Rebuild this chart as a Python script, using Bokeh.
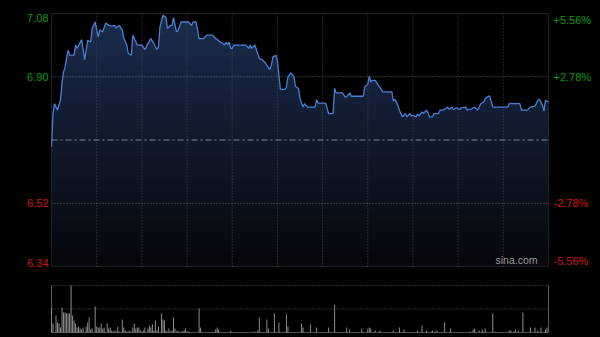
import numpy as np
from bokeh.plotting import figure
from bokeh.models import Range1d, Label, BoxAnnotation
from bokeh.embed import file_html
from bokeh.resources import INLINE

# ---------------- data ----------------
prev_close = 6.71
y_lo, y_hi = 6.337, 7.083

price_minute = [0, 1, 2, 4, 6, 7, 8, 9, 11, 12, 15, 16, 17, 20, 22, 24, 26, 27, 29, 31,
                32, 34, 36, 38, 40, 42, 43, 45, 47, 48, 50, 51, 53, 54, 57, 60, 62, 64, 66, 68,
                70, 71, 72, 74, 76, 77, 79, 80, 81, 83, 84, 86, 88, 91, 93, 94, 96, 98, 101, 103,
                107, 109, 110, 112, 114, 115, 116, 117, 118, 119, 120, 121, 124, 127, 129, 131, 132, 133, 135, 136,
                138, 140, 142, 143, 145, 146, 147, 149, 150, 151, 152, 155, 156, 157, 159, 161, 162, 164, 165, 167,
                168, 170, 175, 176, 177, 182, 184, 187, 188, 189, 193, 195, 196, 198, 199, 207, 208, 210, 211, 212,
                213, 215, 217, 218, 220, 226, 227, 228, 230, 231, 233, 235, 236, 238, 239, 240, 242, 243, 244, 246,
                247, 249, 250, 251, 253, 254, 257, 258, 260, 262, 263, 264, 266, 267, 269, 271, 272, 275, 276, 277,
                279, 281, 283, 285, 287, 288, 290, 291, 293, 300, 303, 304, 311, 312, 316, 318, 321, 323, 324, 326,
                327, 328, 330]
price = [6.690, 6.788, 6.817, 6.798, 6.830, 6.880, 6.911, 6.925, 6.975, 6.960, 6.960, 6.990, 6.980, 7.006, 6.947, 7.004, 6.999, 7.039, 7.058, 7.014,
         7.034, 7.029, 7.055, 7.048, 7.046, 7.048, 7.040, 7.048, 7.034, 7.010, 6.990, 6.965, 6.960, 7.019, 6.990, 6.990, 6.977, 6.994, 7.009, 6.994,
         6.977, 6.984, 7.043, 7.078, 7.071, 7.039, 7.048, 7.048, 7.071, 7.029, 7.032, 7.058, 7.058, 7.058, 7.048, 7.058, 7.058, 7.009, 7.009, 7.019,
         7.019, 7.009, 7.006, 6.999, 6.994, 6.990, 6.999, 6.990, 6.999, 6.980, 6.980, 6.990, 6.990, 6.990, 6.990, 6.980, 6.990, 6.980, 6.990, 6.977,
         6.950, 6.947, 6.937, 6.930, 6.918, 6.930, 6.955, 6.960, 6.945, 6.901, 6.859, 6.859, 6.866, 6.896, 6.908, 6.896, 6.868, 6.862, 6.832, 6.807,
         6.817, 6.807, 6.807, 6.829, 6.819, 6.819, 6.788, 6.788, 6.862, 6.849, 6.849, 6.837, 6.837, 6.849, 6.839, 6.839, 6.866, 6.874, 6.898, 6.881,
         6.886, 6.886, 6.871, 6.865, 6.852, 6.852, 6.825, 6.830, 6.812, 6.798, 6.778, 6.788, 6.778, 6.788, 6.781, 6.783, 6.778, 6.786, 6.781, 6.793,
         6.788, 6.798, 6.790, 6.778, 6.778, 6.788, 6.788, 6.798, 6.798, 6.803, 6.807, 6.800, 6.807, 6.800, 6.805, 6.800, 6.805, 6.807, 6.798, 6.800,
         6.802, 6.807, 6.798, 6.817, 6.822, 6.832, 6.839, 6.839, 6.807, 6.807, 6.807, 6.817, 6.817, 6.798, 6.798, 6.807, 6.810, 6.827, 6.830, 6.812,
         6.795, 6.827, 6.822]

vol_minute = [0, 1, 3, 4, 5, 6, 7, 8, 9, 10, 11, 12, 13, 14, 15, 16, 17, 18, 19, 20,
              21, 23, 24, 25, 26, 27, 29, 30, 31, 32, 33, 34, 35, 37, 38, 39, 40, 41, 42, 43,
              44, 45, 47, 48, 49, 50, 51, 52, 54, 55, 56, 57, 58, 59, 60, 61, 62, 64, 65, 66,
              67, 68, 69, 70, 71, 73, 74, 75, 76, 77, 78, 79, 80, 81, 82, 83, 84, 86, 87, 88,
              89, 90, 91, 98, 99, 109, 110, 111, 119, 135, 137, 138, 143, 144, 148, 151, 156, 157, 166, 167,
              172, 176, 184, 188, 196, 198, 206, 210, 211, 212, 215, 218, 227, 231, 234, 243, 246, 249, 252, 253,
              255, 256, 261, 265, 278, 280, 281, 284, 286, 287, 288, 293, 295, 304, 305, 307, 308, 310, 313, 318,
              321, 323, 325, 328, 329]
volume = [25, 9, 17, 10, 9, 5, 25, 20, 20, 19, 19, 19, 47, 17, 12, 9, 5, 6, 4, 3,
          5, 6, 10, 15, 3, 4, 26, 6, 5, 5, 9, 4, 5, 9, 4, 5, 2, 1, 2, 1,
          6, 1, 13, 5, 2, 1, 1, 2, 5, 9, 4, 5, 5, 2, 1, 2, 5, 4, 7, 5,
          8, 2, 12, 2, 6, 19, 13, 12, 2, 1, 4, 1, 2, 15, 4, 1, 2, 1, 1, 2,
          4, 1, 1, 24, 5, 3, 5, 3, 2, 1, 2, 15, 13, 4, 19, 10, 18, 6, 9, 5,
          8, 5, 5, 28, 5, 3, 4, 4, 5, 4, 2, 2, 2, 5, 3, 2, 7, 2, 1, 2,
          1, 2, 10, 4, 1, 3, 4, 2, 3, 1, 4, 19, 1, 2, 2, 1, 3, 2, 20, 5,
          5, 2, 5, 3, 5]
vol_max = 47

price_ticks = [7.083, 6.8965, 6.5235, 6.337]
price_labels = ["7.08", "6.90", "6.52", "6.34"]
pct_labels = ["+5.56%", "+2.78%", "-2.78%", "-5.56%"]
time_ticks = [30, 60, 90, 120, 150, 180, 210, 240, 270, 300]
session_end = 330

# ---------------- layout geometry (pixels of the 600x337 canvas) ----------------
W, Hc = 600, 337
left_px, right_px = 51, 548
top_px, bot_px = 13, 266
vol_top_px, vol_bot_px = 285, 332

ppm = (right_px - left_px) / session_end            # px per minute
x_start = -left_px / ppm
x_end = session_end + (W - right_px) / ppm
ppp = (y_hi - y_lo) / (bot_px - top_px)              # price per px
yr_top = y_hi + top_px * ppp
yr_bot = y_lo - (Hc - bot_px) * ppp
vpp = vol_max / (vol_bot_px - vol_top_px)            # volume per px
v_bot = -(Hc - vol_bot_px) * vpp
v_top = vol_bot_px * vpp

GREEN = "#0a9a0a"
RED = "#d41414"
FONT = "Liberation Sans"

p = figure(width=W, height=Hc, x_range=Range1d(x_start, x_end), y_range=Range1d(yr_bot, yr_top),
           x_axis_type=None, y_axis_type=None, toolbar_location=None, output_backend="svg",
           min_border=0, background_fill_color="black", border_fill_color="black",
           outline_line_color=None, outline_line_alpha=0)
p.extra_y_ranges = {"vol": Range1d(v_bot, v_top)}

try:
    from bokeh.models import GlobalInlineStyleSheet
    p.stylesheets = [GlobalInlineStyleSheet(css="html, body { background-color: #000000; margin: 0; }")]
except Exception:
    pass

# vertical gradient under the price line
H = 256
t = np.linspace(0.0, 1.0, H)
top_c = np.array([28, 45, 78]); bot_c = np.array([5, 7, 11])
cols = (bot_c[None, :] + (top_c - bot_c)[None, :] * t[:, None]).astype(np.uint8)
img = np.empty((H, 1), dtype=np.uint32)
view = img.view(dtype=np.uint8).reshape((H, 1, 4))
view[:, 0, 0] = cols[:, 0]
view[:, 0, 1] = cols[:, 1]
view[:, 0, 2] = cols[:, 2]
view[:, 0, 3] = 255
p.image_rgba(image=[img], x=0, y=y_lo, dw=session_end, dh=y_hi - y_lo, level="image")
p.varea(x=price_minute, y1=price, y2=y_hi, fill_color="black", level="image")

# grid lines
p.segment(x0=time_ticks, y0=y_lo, x1=time_ticks, y1=y_hi, line_color="#484848",
          line_dash="1 2", line_width=1, level="underlay")
p.segment(x0=0, y0=[price_ticks[1], price_ticks[2]], x1=session_end,
          y1=[price_ticks[1], price_ticks[2]], line_color="#6a6a6a", line_dash="1 2",
          line_width=1, level="underlay")
p.segment(x0=0, y0=prev_close, x1=session_end, y1=prev_close, line_color="#7a8294",
          line_dash="6 3 2 3", line_width=1, level="underlay")
p.add_layout(BoxAnnotation(left=0, right=session_end, bottom=y_lo, top=y_hi,
                           fill_alpha=0, fill_color=None, line_color="#5a5a5a", line_width=1))

p.line(price_minute, price, line_color="#4a7fd4", line_width=1.3)

baselines = ["top", "middle", "middle", "bottom"]
colors = [GREEN, GREEN, RED, RED]
for v, lt, pt, bl, c in zip(price_ticks, price_labels, pct_labels, baselines, colors):
    p.add_layout(Label(x=0, y=v, x_offset=-3, text=lt, text_align="right", text_baseline=bl,
                       text_color=c, text_font=FONT, text_font_size="11px"))
    p.add_layout(Label(x=session_end, y=v, x_offset=5, text=pt, text_align="left", text_baseline=bl,
                       text_color=c, text_font=FONT, text_font_size="11px"))

p.add_layout(Label(x=session_end, y=y_lo, x_offset=-11, y_offset=1, text="sina.com",
                   text_align="right", text_baseline="bottom", text_color="#9a9a9a",
                   text_font=FONT, text_font_size="10.5px"))

# ---------------- volume panel ----------------
p.segment(x0=0, y0=[vol_max / 2, vol_max], x1=session_end, y1=[vol_max / 2, vol_max],
          line_color="#5a5a5a", line_dash="1 2", y_range_name="vol")
p.segment(x0=[0, session_end], y0=0, x1=[0, session_end], y1=vol_max,
          line_color="#5a5a5a", y_range_name="vol")
p.segment(x0=0, y0=0, x1=session_end, y1=0, line_color="#505050", y_range_name="vol")
p.segment(x0=vol_minute, y0=0, x1=vol_minute, y1=volume, line_color="#8c8c8c",
          line_width=1, y_range_name="vol")

open("out.html", "w").write(file_html(p, INLINE))
